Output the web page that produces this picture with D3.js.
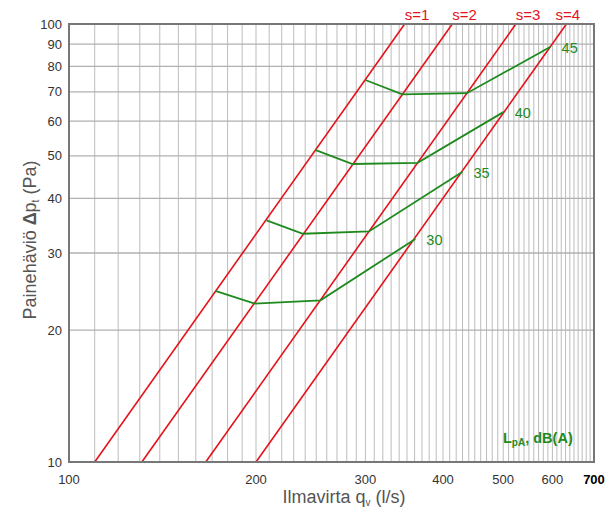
<!DOCTYPE html>
<html>
<head>
<meta charset="utf-8">
<script src="https://cdn.jsdelivr.net/npm/d3@7"></script>
<style>
  body { margin: 0; background: #fff; }
  text { font-family: "Liberation Sans", Arial, sans-serif; }
</style>
</head>
<body>
<svg id="chart" width="613" height="508"></svg>
<script>
// tick labels
const qTicks = [100, 200, 300, 400, 500, 600, 700];
const dpTicks = [10, 20, 30, 40, 50, 60, 70, 80, 90, 100];

// red damper lines, flow (l/s) at 10 Pa and at 100 Pa
const sNames = ["s=1", "s=2", "s=3", "s=4"];
const sQ10 = [110, 131, 166, 200];
const sQ100 = [347, 414, 524, 632];

// green sound level curves, points on s=1..s=4
const lpaLevels = [30, 35, 40, 45];
const lpaQ = [
  [172, 199, 254, 361],
  [208, 238, 304, 430],
  [249, 286, 364, 501],
  [300, 344, 437, 596]
];
const lpaDp = [
  [24.6, 23.0, 23.4, 32.3],
  [35.6, 33.2, 33.6, 46.0],
  [51.6, 47.9, 48.2, 63.0],
  [74.5, 69.1, 69.5, 88.7]
];

const svg = d3.select("#chart");
const pLeft = 69, pRight = 594, pTop = 24, pBottom = 462;

const x = d3.scaleLog().domain([100, 700]).range([pLeft, pRight]);
const y = d3.scaleLog().domain([10, 100]).range([pBottom, pTop]);

const red = "#e3131b", green = "#1e8a1e";

// grid
svg.append("g")
  .selectAll("line")
  .data(d3.range(110, 700, 10))
  .join("line")
    .attr("x1", d => x(d)).attr("x2", d => x(d))
    .attr("y1", pTop).attr("y2", pBottom)
    .attr("stroke", "#bdbdbd")
    .attr("stroke-width", 1);

svg.append("g")
  .selectAll("line")
  .data(dpTicks.slice(1, -1))
  .join("line")
    .attr("x1", pLeft).attr("x2", pRight)
    .attr("y1", d => y(d)).attr("y2", d => y(d))
    .attr("stroke", "#b0b0b0")
    .attr("stroke-width", 1.3);

// red lines
const line = d3.line().x(d => x(d[0])).y(d => y(d[1]));

sNames.forEach(function(name, i){
  svg.append("path")
    .attr("d", line([[sQ10[i], 10], [sQ100[i], 100]]))
    .attr("fill", "none")
    .attr("stroke", red)
    .attr("stroke-width", 1.6);

  svg.append("text")
    .attr("x", x(sQ100[i]) + (i == 3 ? -11 : 0))
    .attr("y", 20)
    .attr("fill", red)
    .attr("font-size", 15)
    .text(name);
});

// green curves
lpaLevels.forEach(function(level, i){
  const pts = lpaQ[i].map((q, j) => [q, lpaDp[i][j]]);
  svg.append("path")
    .attr("d", line(pts))
    .attr("fill", "none")
    .attr("stroke", green)
    .attr("stroke-width", 1.8);

  const last = pts[pts.length - 1];
  svg.append("text")
    .attr("x", x(last[0]) + 11)
    .attr("y", y(last[1]) + 6)
    .attr("fill", green)
    .attr("font-size", 14.5)
    .text(level);
});

// frame
svg.append("rect")
  .attr("x", pLeft).attr("y", pTop)
  .attr("width", pRight - pLeft).attr("height", pBottom - pTop)
  .attr("fill", "none")
  .attr("stroke", "#777")
  .attr("stroke-width", 2);

// tick labels
svg.append("g")
  .selectAll("text")
  .data(qTicks)
  .join("text")
    .attr("x", d => x(d))
    .attr("y", 484)
    .attr("text-anchor", "middle")
    .attr("font-size", 13)
    .attr("fill", d => d == 700 ? "#000" : "#333")
    .attr("font-weight", d => d == 700 ? "bold" : "normal")
    .text(d => d);

svg.append("g")
  .selectAll("text")
  .data(dpTicks)
  .join("text")
    .attr("x", 62)
    .attr("y", d => y(d))
    .attr("dy", "0.35em")
    .attr("text-anchor", "end")
    .attr("font-size", 13)
    .attr("fill", "#333")
    .text(d => d);

// axis titles
const xt = svg.append("text")
  .attr("x", 344).attr("y", 503)
  .attr("text-anchor", "middle")
  .attr("font-size", 18)
  .attr("fill", "#555");
xt.append("tspan").text("Ilmavirta q");
xt.append("tspan").attr("font-size", 10).attr("dy", 3).text("v");
xt.append("tspan").attr("dy", -3).text(" (l/s)");

const yt = svg.append("text")
  .attr("transform", "translate(36,240) rotate(-90)")
  .attr("text-anchor", "middle")
  .attr("font-size", 18)
  .attr("fill", "#555");
yt.append("tspan").text("Painehäviö ");
yt.append("tspan").attr("font-weight", "bold").text("Δ");
yt.append("tspan").text("p");
yt.append("tspan").attr("font-size", 10).attr("dy", 3).text("t");
yt.append("tspan").attr("dy", -3).text(" (Pa)");

// legend title
const lt = svg.append("text")
  .attr("x", 503).attr("y", 443)
  .attr("font-size", 14.5)
  .attr("font-weight", "bold")
  .attr("fill", green);
lt.append("tspan").text("L");
lt.append("tspan").attr("font-size", 10).attr("dy", 3).text("pA");
lt.append("tspan").attr("dy", -3).text(", dB(A)");
</script>
</body>
</html>
